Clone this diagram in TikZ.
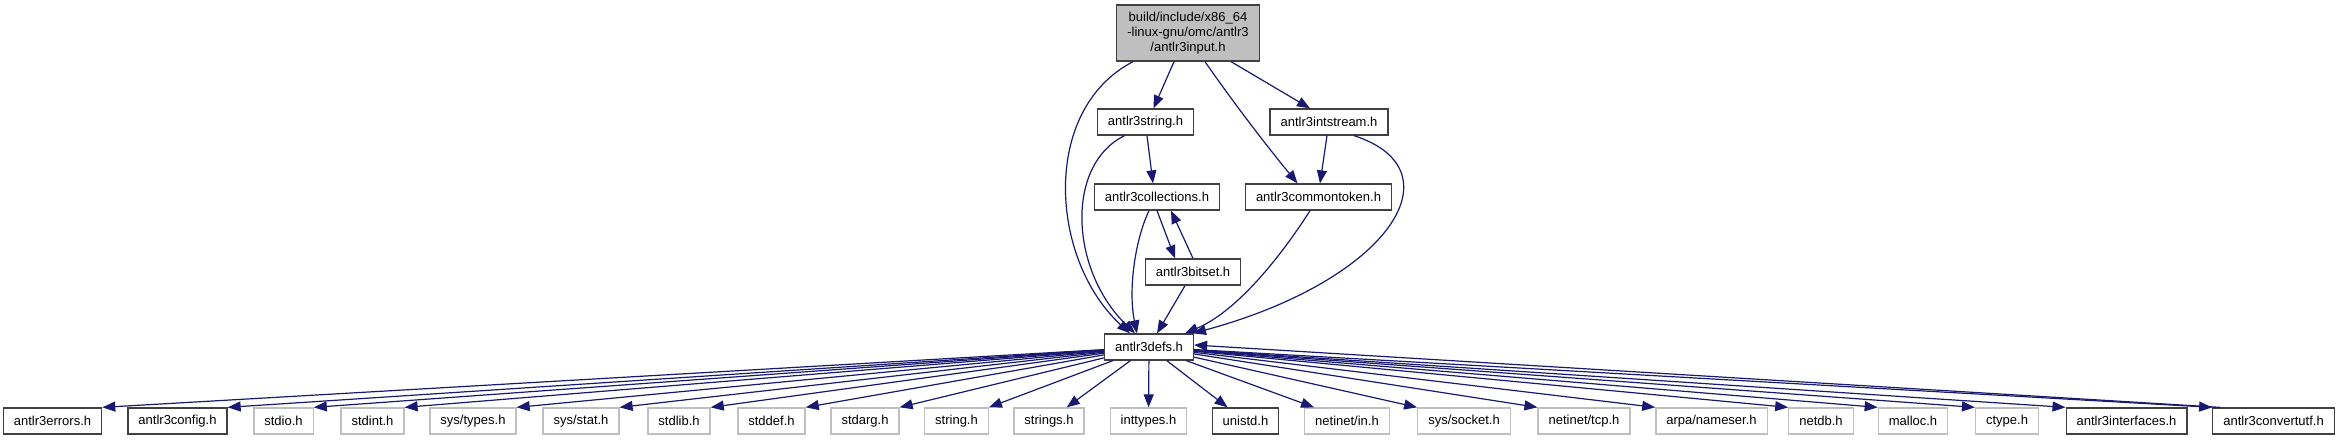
\documentclass[tikz,border=0pt]{standalone}
\usepackage{fontspec}
\setmainfont{Liberation Sans}
\usepackage{xcolor}
\usepackage{tikz}
\usetikzlibrary{arrows.meta}
\definecolor{edgeblue}{HTML}{191970}
\definecolor{hdrline}{HTML}{404040}
\definecolor{sysline}{HTML}{BFBFBF}

\begin{document}
\begin{tikzpicture}[
    x=1pt, y=-1pt,
    file/.style={rectangle, draw=hdrline, fill=white, line width=1.3pt, minimum height=26pt, inner xsep=10.5pt, inner ysep=0pt, font=\fontsize{13}{15}\selectfont},
    sysfile/.style={file, draw=sysline},
    current/.style={file, fill=sysline, minimum width=142pt, minimum height=56pt, align=center},
    inc/.style={-{Triangle[length=13pt, width=10pt]}, draw=edgeblue, line width=1.2pt}
]
\useasboundingbox (0,0) rectangle (2340,440);

\node[current] (input) at (1188,33) {build/include/x86\_64\\-linux-gnu/omc/antlr3\\/antlr3input.h};
\node[file] (string) at (1145.5,122) {antlr3string.h};
\node[file] (intstream) at (1329,122) {antlr3intstream.h};
\node[file] (collections) at (1157,197) {antlr3collections.h};
\node[file] (commontoken) at (1318.5,197) {antlr3commontoken.h};
\node[file] (bitset) at (1193,272) {antlr3bitset.h};
\node[file] (defs) at (1149,347) {antlr3defs.h};

\node[file] (errors) at (52.5,421) {antlr3errors.h};
\node[file] (config) at (177.5,421) {antlr3config.h};
\node[sysfile] (stdio) at (283.5,421) {stdio.h};
\node[sysfile] (stdint) at (372.5,421) {stdint.h};
\node[sysfile] (systypes) at (473,421) {sys/types.h};
\node[sysfile] (sysstat) at (581,421) {sys/stat.h};
\node[sysfile] (stdlib) at (679,421) {stdlib.h};
\node[sysfile] (stddef) at (771.5,421) {stddef.h};
\node[sysfile] (stdarg) at (865,421) {stdarg.h};
\node[sysfile] (cstring) at (956.5,421) {string.h};
\node[sysfile] (strings) at (1049,421) {strings.h};
\node[sysfile] (inttypes) at (1148.5,421) {inttypes.h};
\node[file] (unistd) at (1245.5,421) {unistd.h};
\node[sysfile] (netin) at (1347,421) {netinet/in.h};
\node[sysfile] (socket) at (1464,421) {sys/socket.h};
\node[sysfile] (tcp) at (1584,421) {netinet/tcp.h};
\node[sysfile] (nameser) at (1711.5,421) {arpa/nameser.h};
\node[sysfile] (netdb) at (1821,421) {netdb.h};
\node[sysfile] (malloc) at (1913,421) {malloc.h};
\node[sysfile] (ctype) at (2007,421) {ctype.h};
\node[file] (interfaces) at (2126.5,421) {antlr3interfaces.h};
\node[file] (convertutf) at (2273.5,421) {antlr3convertutf.h};

\draw[inc] ([xshift=-14pt]input.south) -- ([xshift=8pt]string.north);
\draw[inc] ([xshift=43pt]input.south) -- ([xshift=-19pt]intstream.north);
\draw[inc] ([xshift=17pt]input.south) .. controls (1235,105) and (1270,150) .. ([xshift=-21pt]commontoken.north);
\draw[inc] ([xshift=-55pt]input.south) .. controls (1040,110) and (1050,260) .. ([xshift=-19pt]defs.north);
\draw[inc] ([xshift=-21pt]string.south) .. controls (1065,165) and (1070,270) .. ([xshift=-14pt]defs.north);
\draw[inc] ([xshift=1.5pt]string.south) -- ([xshift=-4pt]collections.north);
\draw[inc] ([xshift=-2pt]intstream.south) -- ([xshift=1.5pt]commontoken.north);
\draw[inc] ([xshift=25pt]intstream.south) .. controls (1460,170) and (1390,280) .. ([xshift=44pt]defs.north);
\draw[inc] ([xshift=-8pt]collections.south) .. controls (1135,240) and (1128,290) .. ([xshift=-12pt]defs.north);
\draw[inc] (collections.south) -- ([xshift=-18pt]bitset.north);
\draw[inc] (bitset.north) -- ([xshift=14pt]collections.south);
\draw[inc] ([xshift=-8pt]bitset.south) -- ([xshift=8pt]defs.north);
\draw[inc] ([xshift=-8.5pt]commontoken.south) .. controls (1285,250) and (1240,310) .. ([xshift=36pt]defs.north);

\draw[inc] (defs) -- (errors.north east);
\draw[inc] (defs) -- (config.north east);
\draw[inc] (defs) -- (stdio.north east);
\draw[inc] (defs) -- (stdint.north east);
\draw[inc] (defs) -- (systypes.north east);
\draw[inc] (defs) -- (sysstat.north east);
\draw[inc] (defs) -- (stdlib.north east);
\draw[inc] (defs) -- (stddef.north east);
\draw[inc] (defs) -- (stdarg.north east);
\draw[inc] (defs) -- (cstring.north east);
\draw[inc] (defs) -- ([xshift=-18pt]strings.north east);
\draw[inc] (defs) -- (inttypes);
\draw[inc] (defs) -- ([xshift=16pt]unistd.north west);
\draw[inc] (defs) -- ([xshift=10pt]netin.north west);
\draw[inc] (defs) -- (socket.north west);
\draw[inc] (defs) -- (tcp.north west);
\draw[inc] (defs) -- (nameser.north west);
\draw[inc] (defs) -- (netdb.north west);
\draw[inc] (defs) -- (malloc.north west);
\draw[inc] (defs) -- (ctype.north west);
\draw[inc] (defs) -- (interfaces.north west);
\draw[inc] (defs) -- (convertutf.north west);
\draw[inc] ([xshift=8pt]convertutf.north west) -- ([yshift=2pt]defs.east);

\end{tikzpicture}
\end{document}
